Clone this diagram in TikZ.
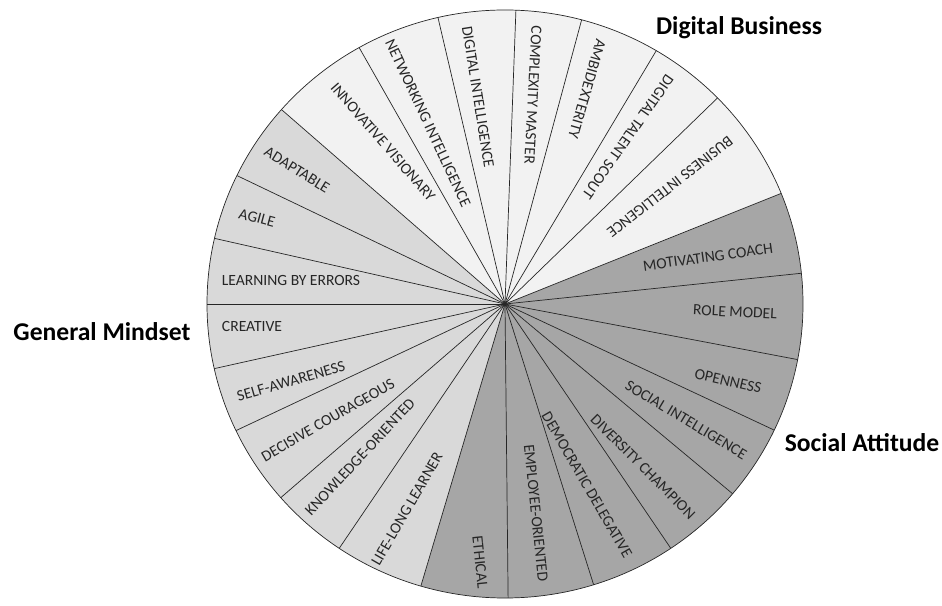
\documentclass[tikz,border=0pt]{standalone}
\usepackage{fontspec}
\setmainfont{Carlito}
\definecolor{digitalfill}{HTML}{F2F2F2}
\definecolor{mindfill}{HTML}{D9D9D9}
\definecolor{socialfill}{HTML}{A6A6A6}
\definecolor{labeltext}{HTML}{262626}
\begin{document}
\begin{tikzpicture}[x=1pt,y=1pt,
  sectorline/.style={draw=black!85, line width=0.7pt},
  lbl/.style={font=\fontsize{15.6}{15.6}\selectfont, text=labeltext, inner sep=0pt},
  cat/.style={font=\fontsize{25.6}{25.6}\selectfont\bfseries, text=black, inner sep=0pt}]
\useasboundingbox (0,0) rectangle (942,605);
\coordinate (C) at (505,301);
\begin{scope}[shift={(C)}, yscale=0.9866]
  \fill[mindfill] (0,0) -- (-106.4:298) arc[start angle=-106.4, end angle=-180, radius=298] -- cycle;
  \fill[mindfill] (0,0) -- (138.6:298) arc[start angle=138.6, end angle=180, radius=298] -- cycle;
  \fill[socialfill] (0,0) -- (-106.4:298) arc[start angle=-106.4, end angle=22.1, radius=298] -- cycle;
  \fill[digitalfill] (0,0) -- (22.1:298) arc[start angle=22.1, end angle=138.6, radius=298] -- cycle;
  \foreach \a in {180,-167.3,-154.5,-138.8,-123.8,-106.4,-89.4,-72.7,-56.2,-40.2,-25.4,-10.9,6,22.1,44.5,59.5,75.1,87.9,103,119.3,138.6,154.1,167.1}
    \draw[sectorline] (0,0) -- (\a:298);
  \draw[sectorline] (0,0) circle[radius=298];
\end{scope}
% sector labels
\node[lbl, rotate=0]   (lbe) at (291,325) {LEARNING BY ERRORS};
\node[lbl, rotate=-15] (agi) at (257,387) {AGILE};
\node[lbl, rotate=-32] (ada) at (297,435) {ADAPTABLE};
\node[lbl, rotate=-49] (inv) at (383,463) {INNOVATIVE VISIONARY};
\node[lbl, rotate=-65] (net) at (428,482) {NETWORKING INTELLIGENCE};
\node[lbl, rotate=-81] (dig) at (478,508) {DIGITAL INTELLIGENCE};
\node[lbl, rotate=-93] (com) at (533,510) {COMPLEXITY MASTER};
\node[lbl, rotate=-106] (amb) at (587,516) {AMBIDEXTERITY};
\node[lbl, rotate=-125] (dts) at (628,468) {DIGITAL TALENT SCOUT};
\node[lbl, rotate=-142] (bus) at (670,418) {BUSINESS INTELLIGENCE};
\node[lbl, rotate=8]   (mot) at (708,348) {MOTIVATING COACH};
\node[lbl, rotate=-3]  (rol) at (735,293) {ROLE MODEL};
\node[lbl, rotate=-13] (ope) at (728,224) {OPENNESS};
\node[lbl, rotate=-31] (soc) at (686,185) {SOCIAL INTELLIGENCE};
\node[lbl, rotate=-45] (div) at (643,138) {DIVERSITY CHAMPION};
\node[lbl, rotate=-60] (dem) at (587,120) {DEMOCRATIC DELEGATIVE};
\node[lbl, rotate=-84] (emp) at (536,92) {EMPLOYEE-ORIENTED};
\node[lbl, rotate=-84] (eth) at (480,43) {ETHICAL};
\node[lbl, rotate=60]  (lif) at (407,96) {LIFE-LONG LEARNER};
\node[lbl, rotate=47]  (kno) at (360,148) {KNOWLEDGE-ORIENTED};
\node[lbl, rotate=30]  (dec) at (328,185) {DECISIVE COURAGEOUS};
\node[lbl, rotate=16]  (sel) at (291,224) {SELF-AWARENESS};
\node[lbl, rotate=0]   (cre) at (252,279) {CREATIVE};
% category labels
\node[cat] (gm) at (102,273) {General Mindset};
\node[cat] (db) at (739,577) {Digital Business};
\node[cat] (sa) at (862,162) {Social Attitude};
\end{tikzpicture}
\end{document}
